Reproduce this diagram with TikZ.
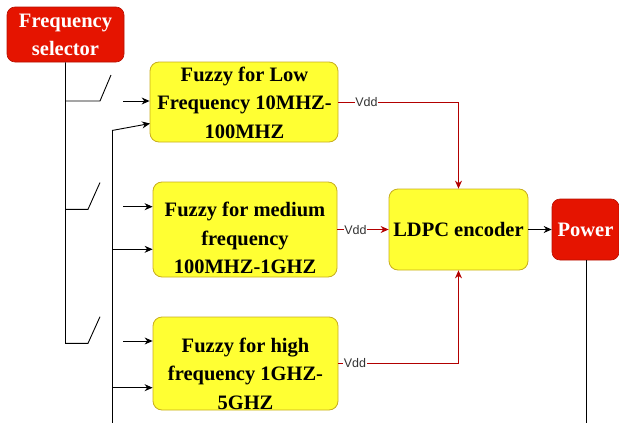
\documentclass[tikz,border=0pt]{standalone}
\usepackage{fontspec}
\setmainfont{Liberation Serif}
\setsansfont{Liberation Sans}
\usetikzlibrary{arrows.meta}
\definecolor{redfill}{HTML}{E51400}
\definecolor{redline}{HTML}{B20000}
\definecolor{yfill}{HTML}{FFFF33}
\definecolor{yline}{HTML}{C8AE1E}
\definecolor{vddtext}{HTML}{333333}
\tikzset{
  redbox/.style={draw=redfill!80!black, fill=redfill, rounded corners=8pt, line width=0.6pt, inner sep=0pt},
  ybox/.style={draw=yline, fill=yfill, rounded corners=9pt, line width=0.8pt, inner sep=0pt},
  btext/.style={font=\fontsize{20.5}{28.5}\selectfont\bfseries, align=center, inner sep=0pt},
  wtext/.style={btext, text=white},
  wire/.style={draw=black, line width=0.9pt},
  arr/.style={wire, -{Stealth[length=8pt,width=7pt]}},
  redarr/.style={draw=redline, line width=0.9pt, -{Stealth[length=8pt,width=7pt]}},
  vdd/.style={font=\sffamily\fontsize{12.5}{14}\selectfont, text=vddtext, fill=white, inner sep=0.5pt}
}
\begin{document}
\begin{tikzpicture}[x=1pt,y=-1pt]
\useasboundingbox (0,0) rectangle (619,423);
\begin{scope}
\clip (0,0) rectangle (619,423);
% boxes
\node[redbox, minimum width=117pt, minimum height=55pt] (sel) at (65.5,34.5) {};
\node[wtext] (selt) at (65.5,35) {Frequency\\selector};
\node[ybox, minimum width=188pt, minimum height=80pt] (f1) at (244,102) {};
\node[btext] (f1t) at (244.5,102.5) {Fuzzy for Low\\Frequency 10MHZ-\\100MHZ};
\node[ybox, minimum width=184pt, minimum height=95pt] (f2) at (245,229.5) {};
\node[btext] (f2t) at (245,238) {Fuzzy for medium\\frequency\\100MHZ-1GHZ};
\node[ybox, minimum width=185pt, minimum height=93pt] (f3) at (245.5,363.5) {};
\node[btext] (f3t) at (245.5,373.5) {Fuzzy for high\\frequency 1GHZ-\\5GHZ};
\node[ybox, minimum width=139pt, minimum height=81pt] (ldpc) at (458.5,229.5) {};
\node[btext] (ldpct) at (458.5,229) {LDPC encoder};
\node[redbox, minimum width=67pt, minimum height=61pt] (pow) at (585.5,229.5) {};
\node[wtext] (powt) at (585.5,229.5) {Power};

% selector bus and switches
\coordinate (bus1) at (65.5,101);
\coordinate (sw1a) at (100,101);
\coordinate (sw1b) at (111,75);
\coordinate (bus2) at (65.5,209.3);
\coordinate (sw2a) at (88,209.3);
\coordinate (sw2b) at (100,182.5);
\coordinate (bus3) at (65.5,343.3);
\coordinate (sw3a) at (88,343.3);
\coordinate (sw3b) at (100,316.7);
\draw[wire] (sel.south) -- (bus3) -- (sw3a) -- (sw3b);
\draw[wire] (bus1) -- (sw1a) -- (sw1b);
\draw[wire] (bus2) -- (sw2a) -- (sw2b);

% short input arrows
\coordinate (in1) at (123,101);
\coordinate (in2) at (123,206.7);
\coordinate (in3) at (123,341);
\draw[arr] (in1) -- (f1.west |- in1);
\draw[arr] (in2) -- (f2.west |- in2);
\draw[arr] (in3) -- (f3.west |- in3);

% second bus
\coordinate (v2top) at (112,130.5);
\coordinate (v2bot) at (112,424);
\coordinate (t1) at (150,123.5);
\coordinate (b2) at (112,249.3);
\coordinate (b3) at (112,387.7);
\draw[wire] (v2bot) -- (v2top);
\draw[arr] (v2top) -- (t1);
\draw[arr] (b2) -- (f2.west |- b2);
\draw[arr] (b3) -- (f3.west |- b3);

% Vdd connectors
\draw[redarr] (f1.east) -- (ldpc.north |- f1.east) -- (ldpc.north);
\draw[redarr] (f2.east) -- (ldpc.west);
\draw[redarr] (f3.east) -- (ldpc.south |- f3.east) -- (ldpc.south);
\node[vdd] (vdd1) at (366.5,102) {Vdd};
\node[vdd] (vdd2) at (355.5,230) {Vdd};
\node[vdd] (vdd3) at (355,363.5) {Vdd};

% LDPC to power, power output
\draw[arr] (ldpc.east) -- (pow.west);
\coordinate (pbot) at (586.5,424);
\draw[wire] (pow.south -| pbot) -- (pbot);
\end{scope}
\end{tikzpicture}
\end{document}
